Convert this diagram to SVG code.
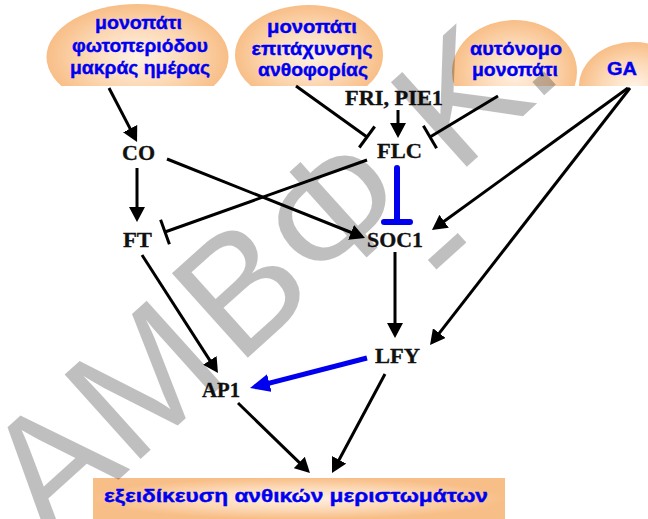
<svg xmlns="http://www.w3.org/2000/svg" width="648" height="519" viewBox="0 0 648 519">
<defs>
<style>
.node{font-family:"Liberation Serif","Times New Roman",serif;font-weight:bold;font-size:20px;fill:#111;text-anchor:middle;stroke:#111;stroke-width:0.3}
.lbl{font-family:"Liberation Sans",Arial,sans-serif;font-weight:bold;font-size:19px;fill:#0000f0;text-anchor:middle;stroke:#0000f0;stroke-width:0.4}
.ln{stroke:#000;stroke-width:3;fill:none}
.arr{marker-end:url(#ah)}
.blue{stroke:#0000ee;stroke-width:6;stroke-linecap:round;fill:none}
.oval{fill:url(#eg)}
.wm{font-family:"Liberation Sans",Arial,sans-serif;font-size:165px;fill:#000;fill-opacity:0.25;text-anchor:middle}
</style>
<radialGradient id="eg" cx="0.5" cy="0.5" r="0.5">
<stop offset="0" stop-color="#fff2e6"/>
<stop offset="0.55" stop-color="#fcd9b6"/>
<stop offset="1" stop-color="#f8be87"/>
</radialGradient>
<clipPath id="cut"><rect x="0" y="0" width="648" height="86"/></clipPath>
<marker id="ah" markerUnits="userSpaceOnUse" viewBox="0 0 15 16" markerWidth="15" markerHeight="16" refX="11" refY="8" orient="auto">
<path d="M0,0 L15,8 L0,16 z" fill="#000"/>
</marker>
<marker id="ahb" markerUnits="userSpaceOnUse" viewBox="0 0 20 18" markerWidth="20" markerHeight="18" refX="15" refY="9" orient="auto">
<path d="M0,0 L20,9 L0,18 z" fill="#0000ee"/>
</marker>
</defs>
<rect width="648" height="519" fill="#fff"/>

<g id="photoperiod">
<ellipse class="oval" clip-path="url(#cut)" cx="137.5" cy="57" rx="91" ry="53"/>
<text class="lbl" x="138.5" y="29" textLength="87" lengthAdjust="spacingAndGlyphs">μονοπάτι</text>
<text class="lbl" x="140" y="52" textLength="136" lengthAdjust="spacingAndGlyphs">φωτοπεριόδου</text>
<text class="lbl" x="140" y="74" textLength="140" lengthAdjust="spacingAndGlyphs">μακράς ημέρας</text>
</g>
<g id="acceleration">
<ellipse class="oval" clip-path="url(#cut)" cx="309" cy="55" rx="74" ry="50"/>
<text class="lbl" x="312" y="33" textLength="90" lengthAdjust="spacingAndGlyphs">μονοπάτι</text>
<text class="lbl" x="312" y="55" textLength="121" lengthAdjust="spacingAndGlyphs">επιτάχυνσης</text>
<text class="lbl" x="313" y="76" textLength="110" lengthAdjust="spacingAndGlyphs">ανθοφορίας</text>
</g>
<g id="autonomous">
<ellipse class="oval" clip-path="url(#cut)" cx="514.5" cy="72" rx="62.5" ry="52"/>
<text class="lbl" x="516" y="55" textLength="92" lengthAdjust="spacingAndGlyphs">αυτόνομο</text>
<text class="lbl" x="515" y="76" textLength="86" lengthAdjust="spacingAndGlyphs">μονοπάτι</text>
</g>
<g id="GA">
<ellipse class="oval" clip-path="url(#cut)" cx="634" cy="86" rx="55" ry="44"/>
<text class="lbl" x="622" y="75" textLength="30" lengthAdjust="spacingAndGlyphs">GA</text>
</g>
<g id="FRI"><text class="node" x="394" y="105" textLength="98" lengthAdjust="spacingAndGlyphs">FRI, PIE1</text></g>
<g id="CO"><text class="node" x="138.5" y="160" textLength="33" lengthAdjust="spacingAndGlyphs">CO</text></g>
<g id="FLC"><text class="node" x="399.5" y="158" textLength="45" lengthAdjust="spacingAndGlyphs">FLC</text></g>
<g id="FT"><text class="node" x="137.5" y="247" textLength="29" lengthAdjust="spacingAndGlyphs">FT</text></g>
<g id="SOC1"><text class="node" x="395" y="247" textLength="56" lengthAdjust="spacingAndGlyphs">SOC1</text></g>
<g id="LFY"><text class="node" x="397.5" y="363" textLength="45" lengthAdjust="spacingAndGlyphs">LFY</text></g>
<g id="AP1"><text class="node" x="221" y="397" textLength="38" lengthAdjust="spacingAndGlyphs">AP1</text></g>
<g id="meristem">
<rect x="93" y="478" width="412" height="41" fill="url(#eg)"/>
<text class="lbl" x="296" y="502" font-size="20" textLength="384" lengthAdjust="spacingAndGlyphs">εξειδίκευση ανθικών μεριστωμάτων</text>
</g>

<g id="connectors">
<line class="ln arr" x1="109" y1="88" x2="135.2" y2="138.4"/>
<line class="ln" x1="296" y1="86" x2="367" y2="137"/>
<line class="ln" x1="359.3" y1="147.5" x2="374.7" y2="126.5"/>
<line class="ln arr" x1="398" y1="110" x2="398" y2="134"/>
<line class="ln" x1="498" y1="96" x2="430" y2="137"/>
<line class="ln" x1="436.6" y1="148.2" x2="423.4" y2="125.8"/>
<line class="ln" x1="367" y1="160" x2="165" y2="232"/>
<line class="ln" x1="169.4" y1="244.2" x2="160.6" y2="219.8"/>
<line class="ln arr" x1="167" y1="159" x2="361.3" y2="236.5"/>
<line class="ln arr" x1="137" y1="168" x2="137" y2="218"/>
<line class="blue" x1="397" y1="168" x2="397" y2="221"/>
<line class="blue" x1="384" y1="222" x2="410" y2="222"/>
<line class="ln arr" x1="628" y1="88" x2="435.2" y2="227.7"/>
<line class="ln arr" x1="630" y1="88" x2="432.5" y2="341.8"/>
<line class="ln arr" x1="395" y1="252" x2="395" y2="334"/>
<line class="ln arr" x1="142" y1="255" x2="215.8" y2="369.6"/>
<line x1="367" y1="358" x2="254.8" y2="386.8" stroke="#0000ee" stroke-width="5" marker-end="url(#ahb)"/>
<line class="ln arr" x1="238" y1="403" x2="307.1" y2="470.2"/>
<line class="ln arr" x1="385" y1="374" x2="333.9" y2="469.5"/>
</g>

<g id="watermark" class="wm">
<text transform="translate(50,462) rotate(-42)" dy="0.358em">Α</text>
<text transform="translate(142,378) rotate(-42)" dy="0.358em">Μ</text>
<text transform="translate(239,286) rotate(-42)" dy="0.358em">Β</text>
<text transform="translate(332,208) rotate(-42)" dy="0.358em">Φ</text>
<text transform="translate(437,240) rotate(-42)" dy="0.358em">-</text>
<text transform="translate(458,95) rotate(-42)" dy="0.358em">Κ</text>
<text transform="translate(550,90) rotate(-42)">.</text>
</g>
</svg>
